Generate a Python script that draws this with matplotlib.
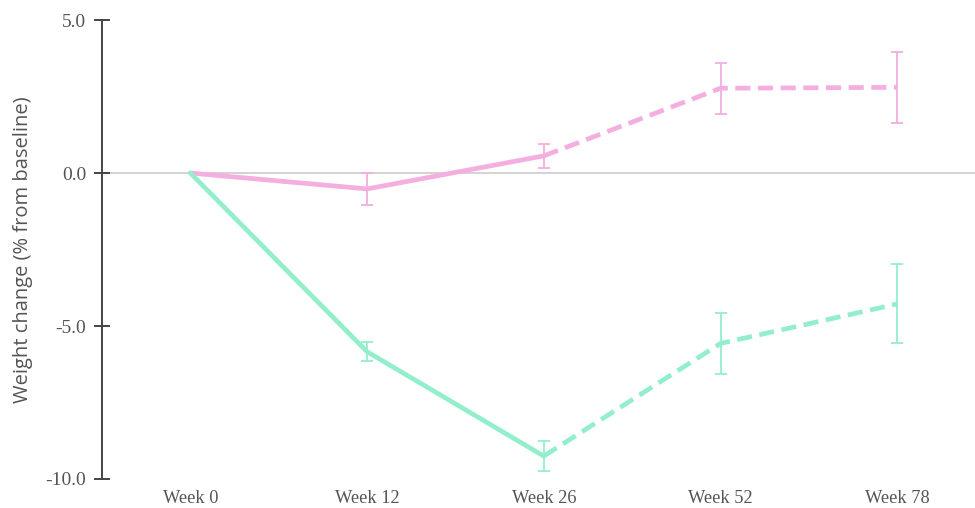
import matplotlib
matplotlib.use("Agg")
import matplotlib.pyplot as plt
import numpy as np

# weight change from baseline (%), mean and error half-width per visit
weeks = ["Week 0", "Week 12", "Week 26", "Week 52", "Week 78"]
pink_mean = [0.0, -0.52, 0.56, 2.77, 2.80]
pink_err = [0.0, 0.53, 0.39, 0.84, 1.15]
green_mean = [0.0, -5.84, -9.25, -5.57, -4.28]
green_err = [0.0, 0.31, 0.48, 0.99, 1.29]

pink = "#f5aee0"
green = "#93efcb"


def draw_series(ax, mean, err, color):
    x = np.arange(len(mean))
    # solid through week 26, dashed afterwards
    ax.plot(x[:3], mean[:3], color=color, lw=3.4, solid_capstyle="round", zorder=3)
    ax.plot(x[2:], mean[2:], color=color, lw=3.4, ls=(0, (3.2, 1.6)), zorder=3)
    ax.errorbar(x[1:], mean[1:], yerr=err[1:], fmt="none", ecolor=color,
                elinewidth=1.3, capsize=4, capthick=1.3, zorder=4)


fig = plt.figure(figsize=(9.75, 5.08), dpi=100)
ax = fig.add_axes([0.1046, 0.0571, 0.8954, 0.9035])

ax.axhline(0, color="#cccccc", lw=1.2, zorder=1)
draw_series(ax, pink_mean, pink_err, pink)
draw_series(ax, green_mean, green_err, green)

ax.set_xlim(-0.5, 4.44)
ax.set_ylim(-10, 5)
ax.set_yticks([5, 0, -5, -10])
ax.set_yticklabels(["5.0", "0.0", "-5.0", "-10.0"],
                   fontfamily="Liberation Serif", fontsize=14, color="#555555")
ax.set_xticks(range(len(weeks)))
ax.set_xticklabels(weeks, fontfamily="Liberation Serif", fontsize=13.2, color="#555555")
ax.tick_params(axis="x", length=0, pad=8)
ax.tick_params(axis="y", direction="inout", length=11, width=1.4, color="#444444", pad=6)

for side in ["top", "right", "bottom"]:
    ax.spines[side].set_visible(False)
ax.spines["left"].set_color("#444444")
ax.spines["left"].set_linewidth(1.4)

ax.set_ylabel("Weight change (% from baseline)", fontfamily="Open Sans",
              fontsize=14.5, color="#555555")
ax.yaxis.label.set_va("center")
ax.yaxis.set_label_coords(-0.0905, 0.5)

fig.savefig("out.png", dpi=100, facecolor="white")
